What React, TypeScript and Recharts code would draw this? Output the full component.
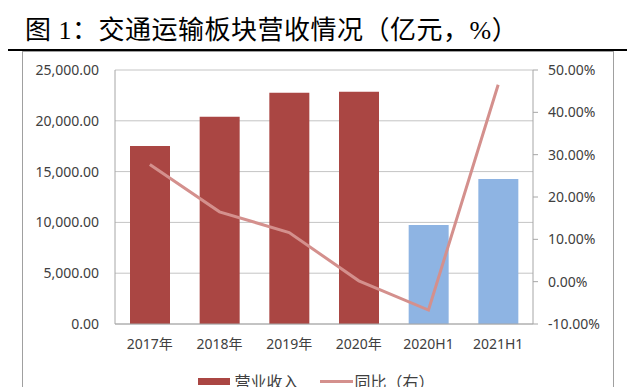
import React from 'react';
import { ComposedChart, Bar, Line, XAxis, YAxis, CartesianGrid, Legend, Cell } from 'recharts';

// values
const categories = ['2017年', '2018年', '2019年', '2020年', '2020H1', '2021H1'];
const revenue = [17520, 20400, 22770, 22860, 9745, 14270];
const yoy = [27.7, 16.5, 11.6, 0.2, -6.7, 46.5];
const leftTicks = [0, 5000, 10000, 15000, 20000, 25000];
const rightTicks = [-10, 0, 10, 20, 30, 40, 50];

const C = {
  annual: '#AA4643',
  half: '#8EB4E3',
  line: '#D4908D',
  grid: '#C4C4C4',
  axis: '#A6A6A6',
  text: '#404040',
} as const;

const FONT = '"Noto Sans", "Noto Sans CJK SC", sans-serif';
const CJK = '"Noto Sans CJK SC", sans-serif';

const data = categories.map((c, i) => ({ name: c, revenue: revenue[i], yoy: yoy[i] }));

const fmtLeft = (v: number) =>
  v.toLocaleString('en-US', { minimumFractionDigits: 2, maximumFractionDigits: 2 });
const fmtRight = (v: number) => `${v.toFixed(2)}%`;

function LegendBox() {
  return (
    <div style={{ display: 'flex', justifyContent: 'center', alignItems: 'center', height: 20, fontFamily: CJK, fontSize: 16, color: C.text }}>
      <span style={{ display: 'inline-block', width: 32, height: 7, background: C.annual, marginRight: 4 }} />
      <span>营业收入</span>
      <span style={{ display: 'inline-block', width: 33, height: 3, background: C.line, marginLeft: 21, marginRight: 2 }} />
      <span>同比（右）</span>
    </div>
  );
}

export default function App() {
  const tick = { fill: C.text, fontSize: 14, fontFamily: FONT };
  return (
    <div style={{ position: 'relative', width: 633, height: 387, overflow: 'hidden', background: '#fff' }}>
      <style>{'body{margin:0}'}</style>
      <div style={{ position: 'absolute', left: 25, top: 18, fontSize: 26, lineHeight: '26px', letterSpacing: 0.5, color: '#000', fontFamily: '"Liberation Serif", "Noto Sans CJK SC", serif', whiteSpace: 'nowrap' }}>
        图 1：交通运输板块营收情况（亿元，%）
      </div>
      <div style={{ position: 'absolute', left: 8, top: 49, width: 619, height: 2, background: '#000' }} />
      <div style={{ position: 'absolute', left: 22, top: 51, width: 590, height: 400, border: '1px solid #A0A0A0', borderBottom: 'none' }} />
      <div style={{ position: 'absolute', left: 0, top: 0 }}>
        <ComposedChart width={633} height={400} data={data} margin={{ top: 70, right: 0, bottom: 9, left: 0 }}>
          <CartesianGrid yAxisId="left" vertical={false} stroke={C.grid} />
          <XAxis
            dataKey="name"
            height={47}
            tick={tick}
            tickLine={false}
            axisLine={{ stroke: C.axis }}
            tickMargin={9}
          />
          <YAxis
            yAxisId="left"
            width={115}
            domain={[0, 25000]}
            ticks={leftTicks}
            tickFormatter={fmtLeft}
            tick={tick}
            tickLine={false}
            tickMargin={10}
            axisLine={{ stroke: C.axis }}
          />
          <YAxis
            yAxisId="right"
            orientation="right"
            width={100}
            domain={[-10, 50]}
            ticks={rightTicks}
            tickFormatter={fmtRight}
            tick={tick}
            tickSize={5}
            tickMargin={10}
            tickLine={{ stroke: C.axis }}
            axisLine={{ stroke: C.axis }}
          />
          <Legend verticalAlign="bottom" content={() => <LegendBox />} />
          <Bar yAxisId="left" dataKey="revenue" barSize={40} fill={C.annual} isAnimationActive={false}>
            {data.map((d, i) => (
              <Cell key={d.name} fill={i < 4 ? C.annual : C.half} />
            ))}
          </Bar>
          <Line yAxisId="right" dataKey="yoy" type="linear" stroke={C.line} strokeWidth={3} dot={false} activeDot={false} isAnimationActive={false} />
        </ComposedChart>
      </div>
    </div>
  );
}
